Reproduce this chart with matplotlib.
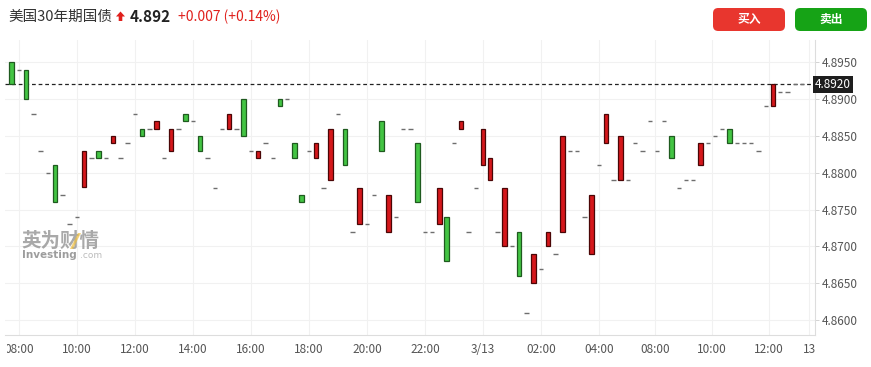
import numpy as np
import matplotlib.pyplot as plt
from matplotlib.patches import FancyBboxPatch, Polygon
from matplotlib.transforms import Bbox, TransformedBbox

plt.rcParams['font.family'] = ['Noto Sans CJK SC', 'DejaVu Sans']

# 15分钟K线：开盘 / 收盘（开盘 == 收盘 的画成短横线）
opens = [4.892, 4.894, 4.890, 4.888, 4.883, 4.880, 4.876, 4.877, 4.873, 4.874,
         4.883, 4.882, 4.882, 4.882, 4.885, 4.882, 4.884, 4.888, 4.885, 4.886,
         4.887, 4.882, 4.886, 4.886, 4.887, 4.887, 4.883, 4.882, 4.878, 4.886,
         4.888, 4.886, 4.885, 4.883, 4.883, 4.884, 4.882, 4.889, 4.890, 4.882,
         4.876, 4.883, 4.884, 4.878, 4.886, 4.888, 4.881, 4.872, 4.878, 4.873,
         4.877, 4.883, 4.877, 4.874, 4.886, 4.886, 4.876, 4.872, 4.872, 4.878,
         4.868, 4.884, 4.887, 4.872, 4.878, 4.886, 4.882, 4.872, 4.878, 4.870,
         4.866, 4.861, 4.869, 4.867, 4.872, 4.869, 4.885, 4.883, 4.883, 4.874,
         4.877, 4.881, 4.888, 4.879, 4.885, 4.879, 4.884, 4.883, 4.887, 4.883,
         4.887, 4.882, 4.878, 4.879, 4.879, 4.884, 4.884, 4.885, 4.886, 4.884,
         4.884, 4.884, 4.884, 4.883, 4.889, 4.892, 4.891, 4.891, 4.892, 4.892]
closes = [4.895, 4.894, 4.894, 4.888, 4.883, 4.880, 4.881, 4.877, 4.873, 4.874,
          4.878, 4.882, 4.883, 4.882, 4.884, 4.882, 4.884, 4.888, 4.886, 4.886,
          4.886, 4.882, 4.883, 4.886, 4.888, 4.887, 4.885, 4.882, 4.878, 4.886,
          4.886, 4.886, 4.890, 4.883, 4.882, 4.884, 4.882, 4.890, 4.890, 4.884,
          4.877, 4.883, 4.882, 4.878, 4.879, 4.888, 4.886, 4.872, 4.873, 4.873,
          4.877, 4.887, 4.872, 4.874, 4.886, 4.886, 4.884, 4.872, 4.872, 4.873,
          4.874, 4.884, 4.886, 4.872, 4.878, 4.881, 4.879, 4.872, 4.870, 4.870,
          4.872, 4.861, 4.865, 4.867, 4.870, 4.869, 4.872, 4.883, 4.883, 4.874,
          4.869, 4.881, 4.884, 4.879, 4.879, 4.879, 4.884, 4.883, 4.887, 4.883,
          4.887, 4.885, 4.878, 4.879, 4.879, 4.881, 4.884, 4.885, 4.886, 4.886,
          4.884, 4.884, 4.884, 4.883, 4.889, 4.889, 4.891, 4.891, 4.892, 4.892]

x_tick_pos = [1, 9, 17, 25, 33, 41, 49, 57, 65, 73, 81, 88.8, 96.6, 104.4, 110.0]
x_tick_labels = ['08:00', '10:00', '12:00', '14:00', '16:00', '18:00', '20:00',
                 '22:00', '3/13', '02:00', '04:00', '08:00', '10:00', '12:00', '13']
y_ticks = [4.860, 4.865, 4.870, 4.875, 4.880, 4.885, 4.890, 4.895]
last_price = 4.892

W, H = 871, 367
fig = plt.figure(figsize=(W / 100, H / 100), dpi=100)


def px(x, y):
    return x / W, 1 - y / H


ax = fig.add_axes([5 / W, 1 - 335 / H, 810 / W, 295 / H])

o = np.array(opens)
c = np.array(closes)
x = np.arange(len(o))
up = c > o
down = c < o
flat = c == o

green, green_edge = '#43c443', '#1f5a1f'
red, red_edge = '#d5171b', '#4a0606'

ax.bar(x[up], (c - o)[up], bottom=o[up], width=0.62, color=green,
       edgecolor=green_edge, linewidth=0.9, zorder=3)
ax.bar(x[down], (c - o)[down], bottom=o[down], width=0.62, color=red,
       edgecolor=red_edge, linewidth=0.9, zorder=3)
ax.hlines(o[flat], x[flat] - 0.3, x[flat] + 0.3, colors='#6e6e6e', linewidth=1.0, zorder=3)

# 当前价虚线
ax.axhline(last_price, color='#222222', linewidth=0.9, dashes=(3, 2.3), zorder=2,
           clip_on=False)

ax.set_xlim(-0.92, 110.8)
ax.set_ylim(4.85799, 4.89801)

ax.set_xticks(x_tick_pos)
ax.set_xticklabels(x_tick_labels)
ax.set_yticks(y_ticks)
ax.set_yticklabels(['%.4f' % v for v in y_ticks])
ax.yaxis.tick_right()
ax.tick_params(axis='y', length=3, width=0.6, color='#cccccc', pad=2,
               labelsize=8.5, labelcolor='#555555')
ax.tick_params(axis='x', length=0, pad=6, labelsize=8.5, labelcolor='#555555')
ax.grid(True, color='#f1f1f1', linewidth=0.8, zorder=0)

for s in ['top', 'left']:
    ax.spines[s].set_visible(False)
for s in ['right', 'bottom']:
    ax.spines[s].set_color('#dddddd')
    ax.spines[s].set_linewidth(0.8)

# 左边被截掉的首个时间标签
clip = TransformedBbox(Bbox([[7 / W, 0], [1, 1]]), fig.transFigure)
lbls = ax.get_xticklabels()
lbls[0].set_clip_on(True)
lbls[0].set_clip_box(clip)

# 右侧当前价标签
ax.text(1.0, last_price, '%.4f' % last_price, transform=ax.get_yaxis_transform(),
        ha='left', va='center', color='white', fontsize=8.5,
        bbox=dict(boxstyle='square,pad=0.18', fc='#1e1e1e', ec='none'), zorder=5)

# 水印
fig.text(*px(21, 241), '英为财情', fontsize=14, fontweight='bold', color='#8c8c8c',
         alpha=0.75, ha='left', va='center')
fig.add_artist(Polygon([px(a, b) for a, b in [(78, 233), (81, 233), (73, 249), (70, 249)]],
                       closed=True, transform=fig.transFigure, fc='#f0c040',
                       ec='none', alpha=0.7, zorder=5))
fig.text(*px(22, 255), 'Investing', fontsize=7.5, fontweight='bold', color='#8c8c8c',
         alpha=0.85, ha='left', va='center', family='DejaVu Sans')
fig.text(*px(80, 255.5), '.com', fontsize=6.5, color='#b0b0b0',
         alpha=0.85, ha='left', va='center', family='DejaVu Sans')

# 标题行
fig.text(*px(8, 17), '美国30年期国债', fontsize=10.5, color='#333333', ha='left', va='center')
arrow = [(120.5, 11.5), (125, 16.5), (122.3, 16.5), (122.3, 21), (118.7, 21),
         (118.7, 16.5), (116, 16.5)]
fig.add_artist(Polygon([px(a, b) for a, b in arrow], closed=True,
                       transform=fig.transFigure, fc='#e0201c', ec='none'))
fig.text(*px(130, 17), '4.892', fontsize=11, fontweight='bold', color='#222222',
         ha='left', va='center')
fig.text(*px(178, 17), '+0.007 (+0.14%)', fontsize=10, color='#e0201c',
         ha='left', va='center')

# 按钮
for x0, col, txt in [(713, '#e8362e', '买入'), (795, '#16a316', '卖出')]:
    fig.add_artist(FancyBboxPatch(px(x0, 31), 72 / W, 23 / H,
                                  boxstyle='round,pad=0,rounding_size=0.006',
                                  transform=fig.transFigure, fc=col, ec='none',
                                  mutation_aspect=W / H))
    fig.text(*px(x0 + 36, 19.5), txt, fontsize=8.5, fontweight='bold', color='white',
             ha='center', va='center')

fig.savefig('out.png', dpi=100)
